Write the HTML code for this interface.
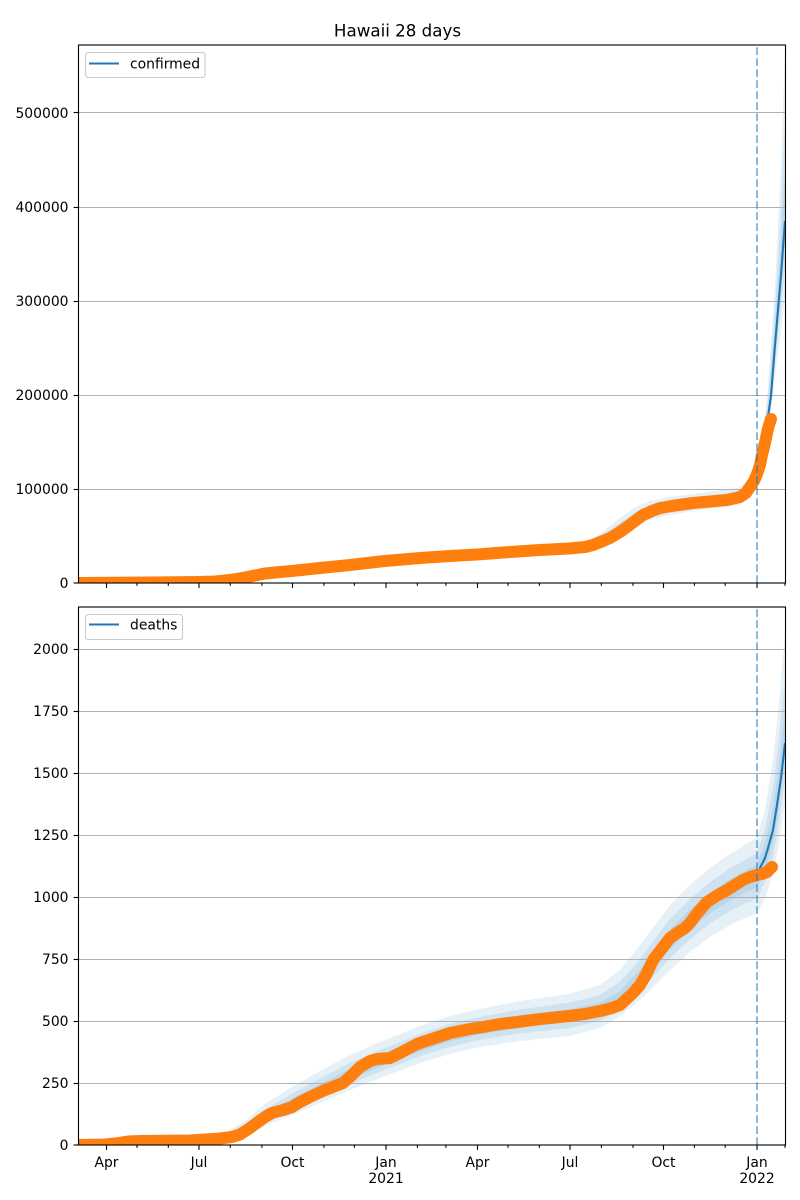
<!DOCTYPE html>
<html><head><meta charset="utf-8"><style>
html,body{margin:0;padding:0;background:#fff;}
svg{display:block;}
text{font-family:"DejaVu Sans","Liberation Sans",sans-serif;fill:#000;}
</style></head><body>
<svg width="800" height="1200" viewBox="0 0 800 1200" xmlns="http://www.w3.org/2000/svg">
<defs>
<clipPath id="ct"><rect x="78.5" y="45" width="707" height="538"/></clipPath>
<clipPath id="cb"><rect x="78.5" y="607" width="707" height="538"/></clipPath>
</defs>
<rect width="800" height="1200" fill="#fff"/>
<text x="397.5" y="36.5" font-size="16.7" text-anchor="middle">Hawaii 28 days</text>

<!-- TOP AXES -->
<g clip-path="url(#ct)">
<g fill="#1f77b4" fill-opacity="0.11" stroke="none">
<polygon points="560,545.5 590,541 605,530 620,518 635,507 650,501 670,497 700,493 740,487.5 750,478 757,464 762,440 768,387 775,285 781,165 785,51 785,296 781,330 775,377 768,435 762,468 757,484 750,496 740,504.5 700,510 670,515 650,520 635,527 620,536 605,543 590,548 560,551.5"/>
<polygon points="560,546.7 590,542.6 605,533.6 620,522.8 635,512.2 650,505.8 670,501.4 700,497 740,491.5 750,482.4 757,468.8 762,447.2 768,399 775,309 781,209 785,119 785,266 781,308 775,364.2 768,427.8 762,464 757,480.8 750,493.2 740,501.7 700,507.2 670,512.2 650,517.2 635,524.2 620,533.6 605,541.4 590,546.8 560,550.3"/>
<polygon points="560,547.6 590,543.8 605,536.3 620,526.4 635,516.1 650,509.4 670,504.7 700,500 740,494.5 750,485.7 757,472.4 762,452.6 768,408 775,327 781,242 785,170 785,243.5 781,291.5 775,354.6 768,422.4 762,461 757,478.4 750,491.1 740,499.6 700,505.1 670,510.1 650,515.1 635,522.1 620,531.8 605,540.2 590,545.9 560,549.4"/>
</g>
<g stroke="#b0b0b0" stroke-width="1.1">
<line x1="78.5" y1="112.5" x2="785.5" y2="112.5"/>
<line x1="78.5" y1="207.5" x2="785.5" y2="207.5"/>
<line x1="78.5" y1="301.5" x2="785.5" y2="301.5"/>
<line x1="78.5" y1="395.5" x2="785.5" y2="395.5"/>
<line x1="78.5" y1="489.5" x2="785.5" y2="489.5"/>
</g>
<polyline fill="none" stroke="#1f77b4" stroke-width="2.08" stroke-linejoin="round" points="78,583 200,581.8 240,577.5 292,571.3 385,561.3 477,554.5 569,548 590,545 605,539 620,530 635,520 650,513 670,508 700,503 740,497.5 750,489 757,476 762,458 765,440 768,417 771,396 775,345 778,310 781,275 785,221"/>
<polyline fill="none" stroke="#ff7f0e" stroke-width="12" stroke-linejoin="round" stroke-linecap="round" points="78,583 150,582.5 199,582 215,581.5 230,580 245,577.5 255,575.5 265,573.5 280,572 292,571 320,568 350,565 385,561 420,558 450,556 477,554.5 510,552 540,550 569,548.5 585,547 593,545 603,541 610,538 620,532 627,527 635,521 643,515 652,511 660,508 675,505.5 693,503 710,501.5 727,500 740,497 746,493 750,487 754,481 757,474 760,465 762,455 765,443 767,433 769,425 771,419"/>
<line x1="757" y1="583" x2="757" y2="45" stroke="#1f77b4" stroke-opacity="0.5" stroke-width="2.08" stroke-dasharray="7.7 3.3"/>
</g>
<rect x="78.5" y="45" width="707" height="538" fill="none" stroke="#000" stroke-width="1.1"/>
<g stroke="#000" stroke-width="1.1">
<line x1="73.6" y1="583" x2="78.5" y2="583"/>
<line x1="73.6" y1="489.5" x2="78.5" y2="489.5"/>
<line x1="73.6" y1="395.5" x2="78.5" y2="395.5"/>
<line x1="73.6" y1="301.5" x2="78.5" y2="301.5"/>
<line x1="73.6" y1="207.5" x2="78.5" y2="207.5"/>
<line x1="73.6" y1="112.5" x2="78.5" y2="112.5"/>
<line x1="106.5" y1="583" x2="106.5" y2="587.9"/>
<line x1="199" y1="583" x2="199" y2="587.9"/>
<line x1="292.5" y1="583" x2="292.5" y2="587.9"/>
<line x1="386" y1="583" x2="386" y2="587.9"/>
<line x1="477.5" y1="583" x2="477.5" y2="587.9"/>
<line x1="570" y1="583" x2="570" y2="587.9"/>
<line x1="663.5" y1="583" x2="663.5" y2="587.9"/>
<line x1="757" y1="583" x2="757" y2="587.9"/>
<line x1="137" y1="583" x2="137" y2="585.8"/>
<line x1="168.3" y1="583" x2="168.3" y2="585.8"/>
<line x1="230.3" y1="583" x2="230.3" y2="585.8"/>
<line x1="261.9" y1="583" x2="261.9" y2="585.8"/>
<line x1="323.9" y1="583" x2="323.9" y2="585.8"/>
<line x1="354.4" y1="583" x2="354.4" y2="585.8"/>
<line x1="417.4" y1="583" x2="417.4" y2="585.8"/>
<line x1="445.9" y1="583" x2="445.9" y2="585.8"/>
<line x1="508" y1="583" x2="508" y2="585.8"/>
<line x1="539.4" y1="583" x2="539.4" y2="585.8"/>
<line x1="601.4" y1="583" x2="601.4" y2="585.8"/>
<line x1="633" y1="583" x2="633" y2="585.8"/>
<line x1="694.4" y1="583" x2="694.4" y2="585.8"/>
<line x1="725.2" y1="583" x2="725.2" y2="585.8"/>
<line x1="785" y1="583" x2="785" y2="585.8"/>
</g>
<g font-size="13.9" text-anchor="end">
<text x="68.5" y="588">0</text>
<text x="68.5" y="494">100000</text>
<text x="68.5" y="400">200000</text>
<text x="68.5" y="306">300000</text>
<text x="68.5" y="212">400000</text>
<text x="68.5" y="118">500000</text>
</g>
<rect x="85.5" y="52.5" width="119.5" height="25" rx="2.8" fill="#fff" fill-opacity="0.8" stroke="#cccccc" stroke-width="1.1"/>
<line x1="89" y1="63.5" x2="119" y2="63.5" stroke="#1f77b4" stroke-width="2.08"/>
<text x="130" y="68.5" font-size="13.9">confirmed</text>

<!-- BOTTOM AXES -->
<g clip-path="url(#cb)">
<g fill="#1f77b4" fill-opacity="0.11" stroke="none">
<polygon points="78,1143.5 200,1137.5 225,1133 245,1121 265,1104 292,1087 320,1071 350,1055 385,1040 420,1026 450,1016 480,1009 520,1001 569,994 600,985 620,970 640,945 655,925 670,905 690,885 710,868 730,854 745,845 757,838 765,810 773,760 779,702 785,633 785,803 779,844 773,875 765,898 757,913 745,918 730,925 710,937 690,952 670,970 655,985 640,1000 620,1016 600,1028 569,1036 520,1041 480,1047 450,1054 420,1063 385,1076 350,1090 320,1103 292,1115 265,1126 245,1135 225,1140 200,1141.5 78,1145.5"/>
<polygon points="78,1143.9 200,1138.3 225,1134.6 245,1124.6 265,1109.6 292,1093.8 320,1078.6 350,1063 385,1048 420,1034 450,1024 480,1017 520,1009.4 569,1002.8 600,995 620,982 640,959 655,939 670,919 690,899 710,882 730,868.4 745,859.8 757,853.2 765,829.2 773,788 779,738 785,677 785,779 779,823.2 773,857 765,882 757,898.2 745,903.6 730,911 710,923.4 690,939.2 670,958 655,975 640,992 620,1009.6 600,1020.8 569,1028 520,1033.4 480,1039.8 450,1046.8 420,1056.2 385,1069.6 350,1084 320,1097.8 292,1110.6 265,1122.8 245,1133 225,1138.8 200,1140.7 78,1145.1"/>
<polygon points="78,1144.2 200,1138.9 225,1135.8 245,1127.3 265,1113.8 292,1098.9 320,1084.3 350,1069 385,1054 420,1040 450,1030 480,1023 520,1015.7 569,1009.4 600,1002.5 620,991 640,969.5 655,949.5 670,929.5 690,909.5 710,892.5 730,879.2 745,870.9 757,864.6 765,843.6 773,809 779,765 785,710 785,761 779,807.6 773,843.5 765,870 757,887.1 745,892.8 730,900.5 710,913.2 690,929.6 670,949 655,967.5 640,986 620,1004.8 600,1015.4 569,1022 520,1027.7 480,1034.4 450,1041.4 420,1051.1 385,1064.8 350,1079.5 320,1093.9 292,1107.3 265,1120.4 245,1131.5 225,1137.9 200,1140.1 78,1144.8"/>
</g>
<g stroke="#b0b0b0" stroke-width="1.1">
<line x1="78.5" y1="649.5" x2="785.5" y2="649.5"/>
<line x1="78.5" y1="711.5" x2="785.5" y2="711.5"/>
<line x1="78.5" y1="773.5" x2="785.5" y2="773.5"/>
<line x1="78.5" y1="835.5" x2="785.5" y2="835.5"/>
<line x1="78.5" y1="897.5" x2="785.5" y2="897.5"/>
<line x1="78.5" y1="959.5" x2="785.5" y2="959.5"/>
<line x1="78.5" y1="1021.5" x2="785.5" y2="1021.5"/>
<line x1="78.5" y1="1083.5" x2="785.5" y2="1083.5"/>
</g>
<polyline fill="none" stroke="#1f77b4" stroke-width="2.08" stroke-linejoin="round" points="78,1145 130,1141.5 200,1140 225,1137.5 245,1130 265,1118 292,1104 320,1090 350,1075 385,1060 420,1046 450,1036 480,1029 520,1022 569,1016 600,1010 620,1000 640,980 655,960 670,940 690,920 710,903 730,890 745,882 757,876 760,868 765,858 768,848 773,830 777,805 781,778 785,743"/>
<polyline fill="none" stroke="#ff7f0e" stroke-width="12" stroke-linejoin="round" stroke-linecap="round" points="78,1145 105,1144.5 115,1143.5 128,1141.5 140,1141 190,1140.5 205,1139.5 220,1138.5 232,1137 240,1134.5 250,1128 258,1122 265,1117 272,1113 283,1110 292,1107 300,1102 310,1097 325,1090 343,1083 352,1075 360,1067 370,1061 377,1059 390,1058 400,1053 417,1044 435,1038 450,1033 470,1029 483,1027 500,1024 517,1022 540,1019 569,1016 585,1014 600,1011 612,1008 620,1005 633,993 640,985 647,973 653,960 663,947 670,938 677,933 685,928 690,923 695,916 700,910 707,902 718,895 727,890 735,885 743,880 750,877 757,875 762,874 767,872 772,867"/>
<line x1="757" y1="1145" x2="757" y2="607" stroke="#1f77b4" stroke-opacity="0.5" stroke-width="2.08" stroke-dasharray="7.7 3.3"/>
</g>
<rect x="78.5" y="607" width="707" height="538" fill="none" stroke="#000" stroke-width="1.1"/>
<g stroke="#000" stroke-width="1.1">
<line x1="73.6" y1="1145" x2="78.5" y2="1145"/>
<line x1="73.6" y1="1083.5" x2="78.5" y2="1083.5"/>
<line x1="73.6" y1="1021.5" x2="78.5" y2="1021.5"/>
<line x1="73.6" y1="959.5" x2="78.5" y2="959.5"/>
<line x1="73.6" y1="897.5" x2="78.5" y2="897.5"/>
<line x1="73.6" y1="835.5" x2="78.5" y2="835.5"/>
<line x1="73.6" y1="773.5" x2="78.5" y2="773.5"/>
<line x1="73.6" y1="711.5" x2="78.5" y2="711.5"/>
<line x1="73.6" y1="649.5" x2="78.5" y2="649.5"/>
<line x1="106.5" y1="1145" x2="106.5" y2="1149.9"/>
<line x1="199" y1="1145" x2="199" y2="1149.9"/>
<line x1="292.5" y1="1145" x2="292.5" y2="1149.9"/>
<line x1="386" y1="1145" x2="386" y2="1149.9"/>
<line x1="477.5" y1="1145" x2="477.5" y2="1149.9"/>
<line x1="570" y1="1145" x2="570" y2="1149.9"/>
<line x1="663.5" y1="1145" x2="663.5" y2="1149.9"/>
<line x1="757" y1="1145" x2="757" y2="1149.9"/>
<line x1="137" y1="1145" x2="137" y2="1147.8"/>
<line x1="168.3" y1="1145" x2="168.3" y2="1147.8"/>
<line x1="230.3" y1="1145" x2="230.3" y2="1147.8"/>
<line x1="261.9" y1="1145" x2="261.9" y2="1147.8"/>
<line x1="323.9" y1="1145" x2="323.9" y2="1147.8"/>
<line x1="354.4" y1="1145" x2="354.4" y2="1147.8"/>
<line x1="417.4" y1="1145" x2="417.4" y2="1147.8"/>
<line x1="445.9" y1="1145" x2="445.9" y2="1147.8"/>
<line x1="508" y1="1145" x2="508" y2="1147.8"/>
<line x1="539.4" y1="1145" x2="539.4" y2="1147.8"/>
<line x1="601.4" y1="1145" x2="601.4" y2="1147.8"/>
<line x1="633" y1="1145" x2="633" y2="1147.8"/>
<line x1="694.4" y1="1145" x2="694.4" y2="1147.8"/>
<line x1="725.2" y1="1145" x2="725.2" y2="1147.8"/>
<line x1="785" y1="1145" x2="785" y2="1147.8"/>
</g>
<g font-size="13.9" text-anchor="end">
<text x="68.5" y="1150">0</text>
<text x="68.5" y="1088">250</text>
<text x="68.5" y="1026">500</text>
<text x="68.5" y="964">750</text>
<text x="68.5" y="902">1000</text>
<text x="68.5" y="840">1250</text>
<text x="68.5" y="778">1500</text>
<text x="68.5" y="716">1750</text>
<text x="68.5" y="654">2000</text>
</g>
<g font-size="13.9" text-anchor="middle">
<text x="106.5" y="1167">Apr</text>
<text x="199" y="1167">Jul</text>
<text x="292.5" y="1167">Oct</text>
<text x="386" y="1167">Jan</text>
<text x="386" y="1183">2021</text>
<text x="477.5" y="1167">Apr</text>
<text x="570" y="1167">Jul</text>
<text x="663.5" y="1167">Oct</text>
<text x="757" y="1167">Jan</text>
<text x="757" y="1183">2022</text>
</g>
<rect x="85.5" y="614.5" width="97" height="25" rx="2.8" fill="#fff" fill-opacity="0.8" stroke="#cccccc" stroke-width="1.1"/>
<line x1="89" y1="624.5" x2="119" y2="624.5" stroke="#1f77b4" stroke-width="2.08"/>
<text x="130" y="629.5" font-size="13.9">deaths</text>
</svg>
</body></html>
